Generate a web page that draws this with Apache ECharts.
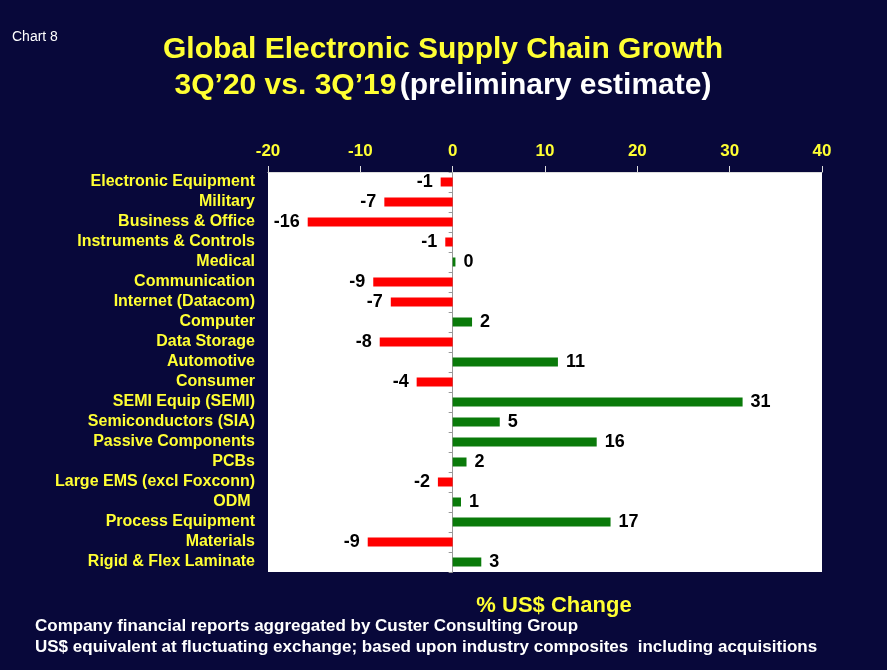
<!DOCTYPE html>
<html>
<head>
<meta charset="utf-8">
<script src="https://cdn.jsdelivr.net/npm/echarts@6/dist/echarts.min.js"></script>
<style>
html, body { margin: 0; padding: 0; background: #08083a; }
#chart { width: 887px; height: 670px; }
</style>
</head>
<body>
<div id="chart"></div>
<script>
var categories = ['Electronic Equipment', 'Military', 'Business & Office', 'Instruments & Controls',
    'Medical', 'Communication', 'Internet (Datacom)', 'Computer', 'Data Storage', 'Automotive',
    'Consumer', 'SEMI Equip (SEMI)', 'Semiconductors (SIA)', 'Passive Components', 'PCBs',
    'Large EMS (excl Foxconn)', 'ODM ', 'Process Equipment', 'Materials', 'Rigid & Flex Laminate'];
var growth = [-1.3, -7.4, -15.7, -0.8, 0.3, -8.6, -6.7, 2.1, -7.9, 11.4,
    -3.9, 31.4, 5.1, 15.6, 1.5, -1.6, 0.9, 17.1, -9.2, 3.1];
var xTicks = [-20, -10, 0, 10, 20, 30, 40];

var barData = [];
for (var i = 0; i < growth.length; i++) {
    var neg = growth[i] < 0;
    barData.push({
        value: growth[i],
        itemStyle: {color: neg ? '#ff0000' : '#0a7a0a'},
        label: {position: neg ? 'left' : 'right'}
    });
}

var myChart = echarts.init(document.getElementById('chart'));
myChart.setOption({
    backgroundColor: '#08083a',
    animation: false,
    grid: {
        left: 268, right: 65, top: 172, bottom: 98,
        show: true, backgroundColor: '#ffffff', borderWidth: 0
    },
    graphic: [
        {type: 'text', left: 12, top: 30, style: {text: 'Chart 8', fill: '#ffffff', font: '14px Arial'}},
        {type: 'text', x: 443, y: 50, style: {text: 'Global Electronic Supply Chain Growth', fill: '#ffff33',
            font: 'bold 30px Arial', textAlign: 'center', textVerticalAlign: 'middle'}},
        {type: 'text', x: 443, y: 86, style: {
            text: '{y|3Q\u201920 vs. 3Q\u201919} {w|(preliminary estimate)}', textAlign: 'center',
            textVerticalAlign: 'middle',
            rich: {
                y: {fill: '#ffff33', font: 'bold 30px Arial'},
                w: {fill: '#ffffff', font: 'bold 30px Arial'}
            }
        }},
        {type: 'text', x: 554, y: 606, style: {text: '% US$ Change', fill: '#ffff33',
            font: 'bold 22px Arial', textAlign: 'center', textVerticalAlign: 'middle'}},
        {type: 'text', x: 35, y: 626, style: {text: 'Company financial reports aggregated by Custer Consulting Group',
            fill: '#ffffff', font: 'bold 17px Arial', textVerticalAlign: 'middle'}},
        {type: 'text', x: 35, y: 647, style: {text: 'US$ equivalent at fluctuating exchange; based upon industry composites  including acquisitions',
            fill: '#ffffff', font: 'bold 17px Arial', textVerticalAlign: 'middle'}}
    ],
    xAxis: {
        type: 'value',
        position: 'top',
        min: xTicks[0],
        max: xTicks[xTicks.length - 1],
        interval: 10,
        axisLine: {show: true, onZero: false, lineStyle: {color: '#dddddd'}},
        axisTick: {show: true, length: 6, lineStyle: {color: '#dddddd'}},
        splitLine: {show: false},
        axisLabel: {color: '#ffff33', fontSize: 17, fontWeight: 'bold', fontFamily: 'Arial', margin: 12}
    },
    yAxis: [
        {
            type: 'category',
            data: categories,
            inverse: true,
            axisLine: {show: false, onZero: false},
            axisTick: {show: false},
            axisLabel: {color: '#ffff33', fontSize: 16, fontWeight: 'bold', fontFamily: 'Arial',
                margin: 13, interval: 0}
        },
        {
            type: 'category',
            data: categories,
            inverse: true,
            position: 'left',
            axisLine: {show: true, onZero: true, lineStyle: {color: '#999999'}},
            axisTick: {show: true, length: 4, interval: 0, lineStyle: {color: '#999999'}},
            axisLabel: {show: false}
        }
    ],
    series: [{
        type: 'bar',
        yAxisIndex: 0,
        data: barData,
        barWidth: 9,
        label: {
            show: true,
            color: '#000000',
            fontSize: 18,
            fontWeight: 'bold',
            fontFamily: 'Arial',
            distance: 8,
            formatter: function (p) {
                var v = Math.round(p.value);
                return v === 0 ? '0' : String(v);
            }
        }
    }]
});
</script>
</body>
</html>
